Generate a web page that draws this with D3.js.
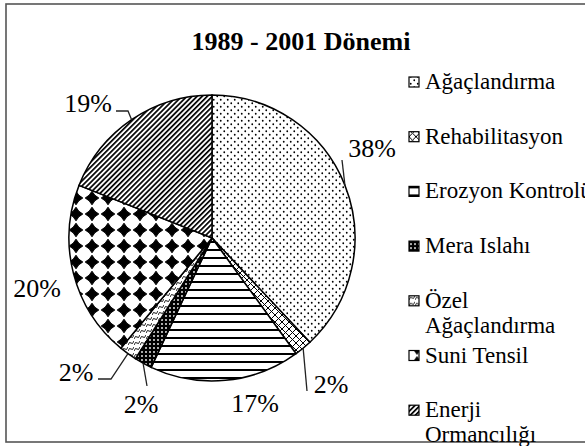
<!DOCTYPE html>
<meta charset="utf-8">
<style>
    body {
        margin: 0;
        background-color: #ffffff;
    }

    text {
        font-family: "Liberation Serif", "Times New Roman", serif;
        fill: #000;
    }

    .slice {
        stroke: #000;
        stroke-width: 1.5px;
    }

    .leader {
        fill: none;
        stroke: #222;
        stroke-width: 1.3px;
    }
</style>

<body>
    <svg width="585" height="446"></svg>
    <script src="https://cdn.jsdelivr.net/npm/d3@7/dist/d3.min.js"></script>
    <script>
        // data
        var categories = ["Ağaçlandırma", "Rehabilitasyon", "Erozyon Kontrolü", "Mera Islahı",
            "Özel Ağaçlandırma", "Suni Tensil", "Enerji Ormancılığı"];
        var values = [38, 2, 17, 2, 2, 20, 19];
        var legendLines = [["Ağaçlandırma"], ["Rehabilitasyon"], ["Erozyon Kontrolü"], ["Mera Islahı"],
            ["Özel", "Ağaçlandırma"], ["Suni Tensil"], ["Enerji", "Ormancılığı"]];
        var title = "1989 - 2001 Dönemi";

        // layout of the percent labels (text centre x, baseline y) and leader ends
        var labelPos = [[372, 157], [331, 393], [255, 412], [141, 413], [76, 381], [37, 297], [88, 112]];
        var leaderEnds = [[[342, 160]], [[307, 391]], null, [[147, 386]], [[111, 379], [98, 379]], null,
            [[128, 111], [116, 111]]];

        var svg = d3.select("svg"),
            cx = 212,
            cy = 238,
            radius = 143;

        // frame
        svg.append("rect")
            .attr("x", 6).attr("y", 4)
            .attr("width", 620).attr("height", 438)
            .attr("fill", "none")
            .attr("stroke", "#555")
            .attr("stroke-width", 1.6);

        var defs = svg.append("defs");

        function pattern(id, w, h, transform) {
            var p = defs.append("pattern")
                .attr("id", id)
                .attr("patternUnits", "userSpaceOnUse")
                .attr("width", w)
                .attr("height", h);
            if (transform) p.attr("patternTransform", transform);
            return p;
        }

        // dots
        var p0 = pattern("p0", 7, 7);
        p0.append("rect").attr("width", 7).attr("height", 7).attr("fill", "#fff");
        p0.append("circle").attr("cx", 1.75).attr("cy", 1.75).attr("r", 0.9).attr("fill", "#000");
        p0.append("circle").attr("cx", 5.25).attr("cy", 5.25).attr("r", 0.9).attr("fill", "#000");

        // cross hatch
        var p1 = pattern("p1", 7, 7);
        p1.append("rect").attr("width", 7).attr("height", 7).attr("fill", "#fff");
        p1.append("path").attr("d", "M0,0L7,7M7,0L0,7").attr("stroke", "#000").attr("stroke-width", 1);

        // horizontal lines
        var p2 = pattern("p2", 8, 8);
        p2.append("rect").attr("width", 8).attr("height", 8).attr("fill", "#fff");
        p2.append("rect").attr("y", 3).attr("width", 8).attr("height", 2).attr("fill", "#000");

        // white dots on black
        var p3 = pattern("p3", 4, 4);
        p3.append("rect").attr("width", 4).attr("height", 4).attr("fill", "#000");
        p3.append("circle").attr("cx", 2).attr("cy", 2).attr("r", 0.9).attr("fill", "#fff");

        // waves
        var p4 = pattern("p4", 6, 6);
        p4.append("rect").attr("width", 6).attr("height", 6).attr("fill", "#fff");
        p4.append("path").attr("d", "M0,5 Q1.5,1 3,3 T6,1").attr("fill", "none")
            .attr("stroke", "#000").attr("stroke-width", 0.9);

        // diamonds
        var p5 = pattern("p5", 16, 16);
        p5.append("rect").attr("width", 16).attr("height", 16).attr("fill", "#fff");
        p5.append("path")
            .attr("d", "M8,1.2Q10.2,5.8 14.8,8Q10.2,10.2 8,14.8Q5.8,10.2 1.2,8Q5.8,5.8 8,1.2Z")
            .attr("fill", "#000")
            .attr("stroke", "#000")
            .attr("stroke-width", 1);

        // diagonal stripes
        var p6 = pattern("p6", 3.6, 3.6, "rotate(45)");
        p6.append("rect").attr("width", 3.6).attr("height", 3.6).attr("fill", "#fff");
        p6.append("rect").attr("width", 1.7).attr("height", 3.6).attr("fill", "#000");

        var pie = d3.pie().sort(null).value(function(d) { return d; });
        var arc = d3.arc().innerRadius(0).outerRadius(radius);
        var arcs = pie(values);

        var g = svg.append("g").attr("transform", "translate(" + cx + "," + cy + ")");

        g.selectAll(".slice")
            .data(arcs)
            .enter().append("path")
            .attr("class", "slice")
            .attr("fill", function(d, i) { return "url(#p" + i + ")"; })
            .attr("d", arc);

        // leaders
        arcs.forEach(function(d, i) {
            if (!leaderEnds[i]) return;
            var a = (d.startAngle + d.endAngle) / 2;
            var pts = [[cx + radius * Math.sin(a), cy - radius * Math.cos(a)]].concat(leaderEnds[i]);
            svg.append("path")
                .attr("class", "leader")
                .attr("d", d3.line()(pts));
        });

        svg.selectAll(".label")
            .data(values)
            .enter().append("text")
            .attr("class", "label")
            .attr("x", function(d, i) { return labelPos[i][0]; })
            .attr("y", function(d, i) { return labelPos[i][1]; })
            .attr("text-anchor", "middle")
            .style("font-size", "26px")
            .text(function(d) { return d + "%"; });

        svg.append("text")
            .attr("x", 301)
            .attr("y", 50)
            .attr("text-anchor", "middle")
            .style("font-size", "26px")
            .style("font-weight", "bold")
            .text(title);

        // legend
        var legend = svg.selectAll(".legend")
            .data(categories)
            .enter().append("g")
            .attr("class", "legend")
            .attr("transform", function(d, i) { return "translate(409," + (82 + i * 54.7) + ")"; });

        legend.append("rect")
            .attr("x", 0).attr("y", -5)
            .attr("width", 10).attr("height", 10)
            .attr("fill", function(d, i) { return "url(#p" + i + ")"; })
            .attr("stroke", "#000")
            .attr("stroke-width", 1.2);

        legend.each(function(d, i) {
            var t = d3.select(this).append("text")
                .attr("x", 16)
                .attr("y", 7)
                .style("font-size", "23px");
            legendLines[i].forEach(function(line, j) {
                t.append("tspan").attr("x", 16).attr("dy", j ? 25 : 0).text(line);
            });
        });
    </script>
</body>
